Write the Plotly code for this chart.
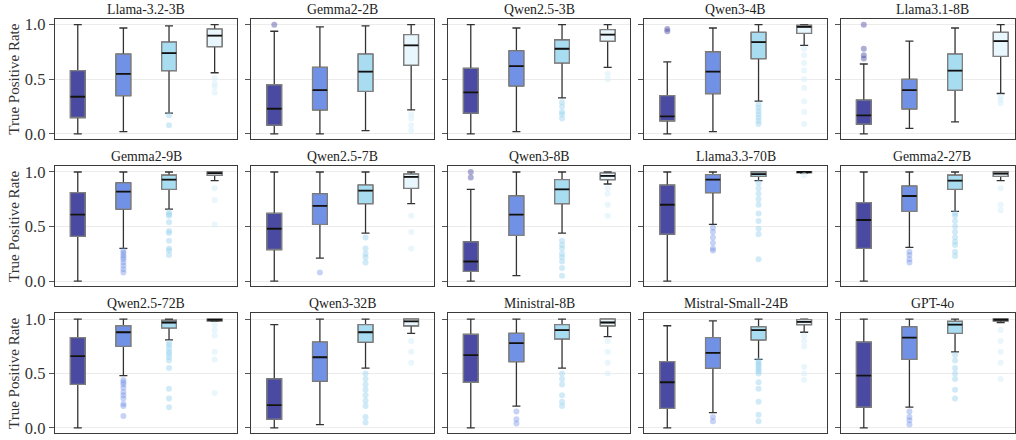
import plotly.graph_objects as go

models = ["Llama-3.2-3B", "Gemma2-2B", "Qwen2.5-3B", "Qwen3-4B", "Llama3.1-8B",
          "Gemma2-9B", "Qwen2.5-7B", "Qwen3-8B", "Llama3.3-70B", "Gemma2-27B",
          "Qwen2.5-72B", "Qwen3-32B", "Ministral-8B", "Mistral-Small-24B", "GPT-4o"]

# per model, 4 boxes each
lower = [
    [0.00, 0.02, 0.19, 0.56], [0.00, 0.00, 0.03, 0.22], [0.00, 0.02, 0.33, 0.61],
    [0.00, 0.02, 0.30, 0.81], [0.00, 0.05, 0.11, 0.37],
    [0.00, 0.30, 0.66, 0.92], [0.00, 0.21, 0.44, 0.71], [0.00, 0.05, 0.44, 0.89],
    [0.00, 0.52, 0.92, 0.99], [0.00, 0.31, 0.64, 0.92],
    [0.00, 0.48, 0.81, 0.98], [0.00, 0.03, 0.55, 0.87], [0.00, 0.20, 0.55, 0.84],
    [0.00, 0.14, 0.63, 0.88], [0.00, 0.19, 0.70, 0.97],
]
q1 = [
    [0.15, 0.35, 0.58, 0.80], [0.08, 0.22, 0.39, 0.63], [0.19, 0.44, 0.65, 0.85],
    [0.12, 0.37, 0.69, 0.92], [0.09, 0.23, 0.40, 0.71],
    [0.41, 0.66, 0.84, 0.97], [0.29, 0.52, 0.71, 0.85], [0.09, 0.42, 0.71, 0.93],
    [0.43, 0.81, 0.96, 0.995], [0.30, 0.64, 0.84, 0.96],
    [0.40, 0.75, 0.92, 0.985], [0.08, 0.43, 0.79, 0.94], [0.42, 0.61, 0.82, 0.94],
    [0.18, 0.55, 0.81, 0.95], [0.19, 0.63, 0.87, 0.985],
]
median = [
    [0.34, 0.55, 0.74, 0.90], [0.23, 0.40, 0.57, 0.81], [0.38, 0.62, 0.78, 0.91],
    [0.16, 0.57, 0.84, 0.98], [0.17, 0.40, 0.58, 0.85],
    [0.61, 0.82, 0.93, 0.99], [0.48, 0.69, 0.83, 0.955], [0.18, 0.61, 0.84, 0.965],
    [0.70, 0.93, 0.98, 1.00], [0.56, 0.78, 0.92, 0.985],
    [0.66, 0.88, 0.97, 0.994], [0.21, 0.65, 0.88, 0.98], [0.67, 0.78, 0.90, 0.97],
    [0.42, 0.69, 0.90, 0.976], [0.48, 0.83, 0.95, 0.995],
]
q3 = [
    [0.58, 0.73, 0.84, 0.96], [0.45, 0.61, 0.73, 0.91], [0.60, 0.76, 0.86, 0.955],
    [0.35, 0.75, 0.93, 0.994], [0.31, 0.50, 0.73, 0.93],
    [0.81, 0.90, 0.97, 1.00], [0.62, 0.80, 0.88, 0.98], [0.36, 0.78, 0.93, 0.99],
    [0.88, 0.975, 1.00, 1.00], [0.72, 0.87, 0.97, 1.00],
    [0.83, 0.94, 0.99, 1.00], [0.45, 0.79, 0.95, 1.00], [0.86, 0.87, 0.95, 1.00],
    [0.61, 0.83, 0.93, 0.997], [0.79, 0.93, 0.98, 1.00],
]
upper = [
    [1.00, 0.97, 0.99, 1.00], [0.94, 0.98, 0.99, 1.00], [1.00, 0.97, 1.00, 1.00],
    [0.66, 0.97, 1.00, 1.00], [0.64, 0.85, 0.97, 1.00],
    [1.00, 1.00, 1.00, 1.00], [1.00, 1.00, 1.00, 1.00], [0.84, 1.00, 1.00, 1.00],
    [1.00, 1.00, 1.00, 1.00], [1.00, 1.00, 1.00, 1.00],
    [1.00, 1.00, 1.00, 1.00], [0.95, 1.00, 1.00, 1.00], [1.00, 1.00, 1.00, 1.00],
    [0.94, 0.985, 1.00, 1.00], [1.00, 1.00, 1.00, 1.00],
]
outliers = [
    [[], [], [0.17, 0.08], [0.51, 0.46, 0.43, 0.38]],
    [[1.00], [], [], [0.18, 0.14, 0.08, 0.03]],
    [[], [], [0.29, 0.25, 0.20, 0.18, 0.14], [0.55, 0.50]],
    [[0.94, 0.96], [], [0.27, 0.24, 0.21, 0.18, 0.15, 0.12, 0.09], [0.78, 0.72, 0.65, 0.58, 0.50, 0.42, 0.30, 0.20, 0.09]],
    [[0.69, 0.72, 0.78, 1.00], [], [], [0.34, 0.31, 0.28]],
    [[], [0.28, 0.26, 0.24, 0.22, 0.20, 0.17, 0.14, 0.11, 0.08], [0.63, 0.61, 0.60, 0.54, 0.46, 0.44, 0.37, 0.30, 0.28, 0.24], [0.85, 0.74, 0.52]],
    [[], [0.08], [0.40, 0.30, 0.25, 0.22, 0.17], [0.60, 0.45, 0.30]],
    [[1.00, 0.95], [], [0.37, 0.33, 0.30, 0.25, 0.22, 0.18, 0.12, 0.05], [0.85, 0.80, 0.70, 0.60]],
    [[], [0.49, 0.45, 0.40, 0.35, 0.30, 0.28], [0.90, 0.85, 0.80, 0.75, 0.70, 0.62, 0.55, 0.48, 0.43, 0.20], [0.97]],
    [[], [0.27, 0.24, 0.20, 0.17], [0.62, 0.60, 0.55, 0.50, 0.45, 0.40, 0.36, 0.33, 0.27, 0.23], [0.85, 0.70, 0.65]],
    [[], [0.44, 0.42, 0.40, 0.37, 0.33, 0.30, 0.27, 0.22, 0.20, 0.11], [0.78, 0.76, 0.73, 0.70, 0.68, 0.65, 0.62, 0.55, 0.36, 0.27, 0.19], [0.95, 0.90, 0.85, 0.70, 0.63, 0.32]],
    [[], [], [0.50, 0.45, 0.40, 0.35, 0.30, 0.25, 0.20, 0.10, 0.05], [0.80, 0.70, 0.60]],
    [[], [0.15, 0.08, 0.04], [0.50, 0.45, 0.40, 0.30, 0.24, 0.20], [0.80, 0.70, 0.60, 0.50]],
    [[], [0.10, 0.06], [0.62, 0.60, 0.58, 0.56, 0.54, 0.52, 0.50, 0.42, 0.36, 0.24, 0.12, 0.06], [0.85, 0.80, 0.75, 0.56, 0.50, 0.44]],
    [[], [0.15, 0.10, 0.07, 0.03], [0.67, 0.62, 0.55, 0.50, 0.45, 0.35, 0.27], [0.90, 0.80, 0.70, 0.60, 0.45]],
]

fill_colors = ["#4a4aa2", "#7191e6", "#a8dcf0", "#e8f6fd"]
dot_colors = ["rgba(74,74,162,0.45)", "rgba(113,145,230,0.4)", "rgba(150,210,238,0.45)", "rgba(215,238,250,0.55)"]
y_tick_vals = [0.0, 0.5, 1.0]
y_tick_text = ["0.0", "0.5", "1.0"]

FONT = "Liberation Serif"
W, H = 1016, 440
col_left0, col_step, col_w = 55.0, 196.7, 182.7
row_tops = [16.0, 166.0, 316.0]
row_bots = [138.3, 288.3, 437.7]
YR = [-0.045, 1.055]

fig = go.Figure()
annotations = []

for i, name in enumerate(models):
    r, c = divmod(i, 5)
    ax_id = i + 1
    xa = "x" if ax_id == 1 else f"x{ax_id}"
    ya = "y" if ax_id == 1 else f"y{ax_id}"
    x0 = col_left0 + c * col_step
    x1 = x0 + col_w
    vis_x1 = min(x1, W)
    xr_hi = -0.5 + 4 * (vis_x1 - x0) / col_w
    fig.layout[f"xaxis{'' if ax_id == 1 else ax_id}"] = dict(
        domain=[x0 / W, vis_x1 / W], anchor=ya, range=[-0.5, xr_hi],
        showticklabels=False, ticks="", showgrid=False, zeroline=False,
        showline=True, mirror=True, linecolor="#3a3a3a", linewidth=1.3,
        fixedrange=True)
    fig.layout[f"yaxis{'' if ax_id == 1 else ax_id}"] = dict(
        domain=[1 - row_bots[r] / H, 1 - row_tops[r] / H], anchor=xa, range=YR,
        tickvals=y_tick_vals, ticktext=y_tick_text, showticklabels=(c == 0),
        ticks="outside", ticklen=5, tickwidth=1.2, tickcolor="#555",
        tickfont=dict(family=FONT, size=16.5, color="#333"),
        showgrid=True, gridcolor="#ececec", gridwidth=1, zeroline=False,
        showline=True, mirror=True, linecolor="#3a3a3a", linewidth=1.3,
        fixedrange=True)

    for k in range(4):
        # layer A: whiskers + caps (dark)
        fig.add_trace(go.Box(
            x=[k], q1=[q1[i][k]], median=[median[i][k]], q3=[q3[i][k]],
            lowerfence=[lower[i][k]], upperfence=[upper[i][k]],
            orientation="v", width=0.32, whiskerwidth=0.55,
            fillcolor=fill_colors[k], line=dict(color="#333333", width=1.3),
            boxpoints=False, xaxis=xa, yaxis=ya, showlegend=False, hoverinfo="skip"))
        # layer B: box body with grey outline
        fig.add_trace(go.Box(
            x=[k], q1=[q1[i][k]], median=[median[i][k]], q3=[q3[i][k]],
            lowerfence=[q1[i][k]], upperfence=[q3[i][k]],
            orientation="v", width=0.32, whiskerwidth=0,
            fillcolor=fill_colors[k], line=dict(color="#808080", width=1.3),
            boxpoints=False, xaxis=xa, yaxis=ya, showlegend=False, hoverinfo="skip"))
        # layer C: median line (black)
        m = median[i][k]
        fig.add_trace(go.Box(
            x=[k], q1=[m], median=[m], q3=[m], lowerfence=[m], upperfence=[m],
            orientation="v", width=0.32, whiskerwidth=0,
            fillcolor="rgba(0,0,0,0)", line=dict(color="#111111", width=1.8),
            boxpoints=False, xaxis=xa, yaxis=ya, showlegend=False, hoverinfo="skip"))
        if outliers[i][k]:
            fig.add_trace(go.Scatter(
                x=[k] * len(outliers[i][k]), y=outliers[i][k], mode="markers",
                marker=dict(color=dot_colors[k], size=6, line=dict(width=0)),
                xaxis=xa, yaxis=ya, showlegend=False, hoverinfo="skip", cliponaxis=False))

    annotations.append(dict(
        text=name, x=(x0 + col_w / 2) / W, y=1 - row_tops[r] / H,
        xref="paper", yref="paper", xanchor="center", yanchor="bottom",
        showarrow=False, font=dict(family=FONT, size=13.8, color="#222")))

for r in range(3):
    annotations.append(dict(
        text="True Positive Rate", x=14 / W, y=1 - (row_tops[r] + row_bots[r]) / 2 / H,
        xref="paper", yref="paper", xanchor="center", yanchor="middle",
        textangle=-90, showarrow=False, font=dict(family=FONT, size=15, color="#333")))

fig.update_layout(
    width=W, height=H, margin=dict(l=0, r=0, t=0, b=0),
    paper_bgcolor="white", plot_bgcolor="white", boxmode="overlay",
    font=dict(family=FONT),
    annotations=annotations, showlegend=False)

fig.write_html("out.html", config={"displayModeBar": False})
